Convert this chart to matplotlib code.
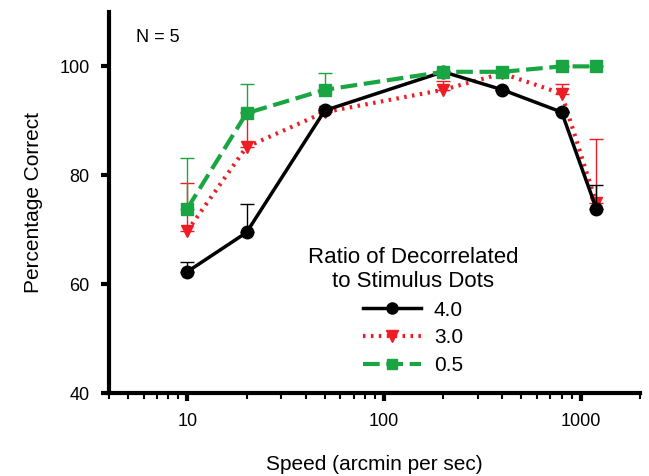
import numpy as np
from matplotlib import pyplot as plt
from matplotlib.lines import Line2D
from matplotlib.ticker import LogLocator, NullFormatter, FixedLocator

plt.rcParams['font.family'] = ['Liberation Sans', 'DejaVu Sans']

speed = [10, 20, 50, 200, 400, 800, 1200]

# ratio 4.0
pc_40 = [62.3, 69.5, 91.9, 99.0, 95.7, 91.6, 73.9]
err_40 = [1.7, 5.3, 0, 0, 0, 0, 4.3]
# ratio 3.0
pc_30 = [69.8, 85.2, 91.6, 95.7, 98.7, 95.0, 74.9]
err_30 = [8.7, 6.5, 0.8, 1.7, 0, 1.8, 11.7]
# ratio 0.5
pc_05 = [73.9, 91.4, 95.7, 99.0, 99.0, 100.0, 100.0]
err_05 = [9.3, 5.3, 3.1, 0, 0, 0, 0]

green = '#1aa543'
red = '#ee1c24'
ls_green = (0, (4, 1.6))
ls_red = (0, (0.6, 1.3))

fig = plt.figure(figsize=(6.49, 4.76), dpi=100)
ax = fig.add_axes([0.168, 0.174, 0.818, 0.801])

def errs(e):
    return [np.zeros(len(e)), e]

ax.errorbar(speed, pc_30, yerr=errs(err_30), color=red, lw=3, ls=ls_red,
            marker='v', ms=9, capsize=5, elinewidth=1, capthick=1, zorder=2)
ax.errorbar(speed, pc_40, yerr=errs(err_40), color='black', lw=2.5, ls='-',
            marker='o', ms=9, capsize=5, elinewidth=1, capthick=1, zorder=3)
ax.errorbar(speed, pc_05, yerr=errs(err_05), color=green, lw=3, ls=ls_green,
            marker='s', ms=8, capsize=5, elinewidth=1, capthick=1, zorder=4)

ax.set_xscale('log')
ax.set_xlim(4, 2000)
ax.set_ylim(40, 110)
ax.set_yticks([40, 60, 80, 100])
ax.xaxis.set_major_locator(FixedLocator([10, 100, 1000]))
ax.xaxis.set_minor_locator(LogLocator(base=10, subs=np.arange(2, 10)))
ax.xaxis.set_minor_formatter(NullFormatter())
ax.set_xticklabels(['10', '100', '1000'])

for s in ['top', 'right']:
    ax.spines[s].set_visible(False)
for s in ['left', 'bottom']:
    ax.spines[s].set_linewidth(3)
ax.tick_params(axis='both', which='major', width=3, length=6, labelsize=13, pad=8)
ax.tick_params(axis='x', which='minor', width=1.5, length=4)

ax.set_xlabel('Speed (arcmin per sec)', fontsize=15, labelpad=18)
ax.set_ylabel('Percentage Correct', fontsize=15, labelpad=12)
ax.text(0.05, 0.92, 'N = 5', transform=ax.transAxes, fontsize=13)

handles = [
    Line2D([], [], color='black', lw=2.5, marker='o', ms=8),
    Line2D([], [], color=red, lw=3, ls=ls_red, marker='v', ms=8),
    Line2D([], [], color=green, lw=3, ls=ls_green, marker='s', ms=7),
]
leg = ax.legend(handles, ['4.0', '3.0', '0.5'], title='Ratio of Decorrelated\nto Stimulus Dots',
                frameon=False, fontsize=15, title_fontsize=16, loc='upper center',
                bbox_to_anchor=(413 / 649, (476 - 232) / 476), bbox_transform=fig.transFigure,
                borderpad=0.2, handlelength=2.8, labelspacing=0.42, handletextpad=0.6)
leg._legend_box.align = 'center'
leg.get_title().set_multialignment('center')

fig.savefig('out.png', dpi=100)
